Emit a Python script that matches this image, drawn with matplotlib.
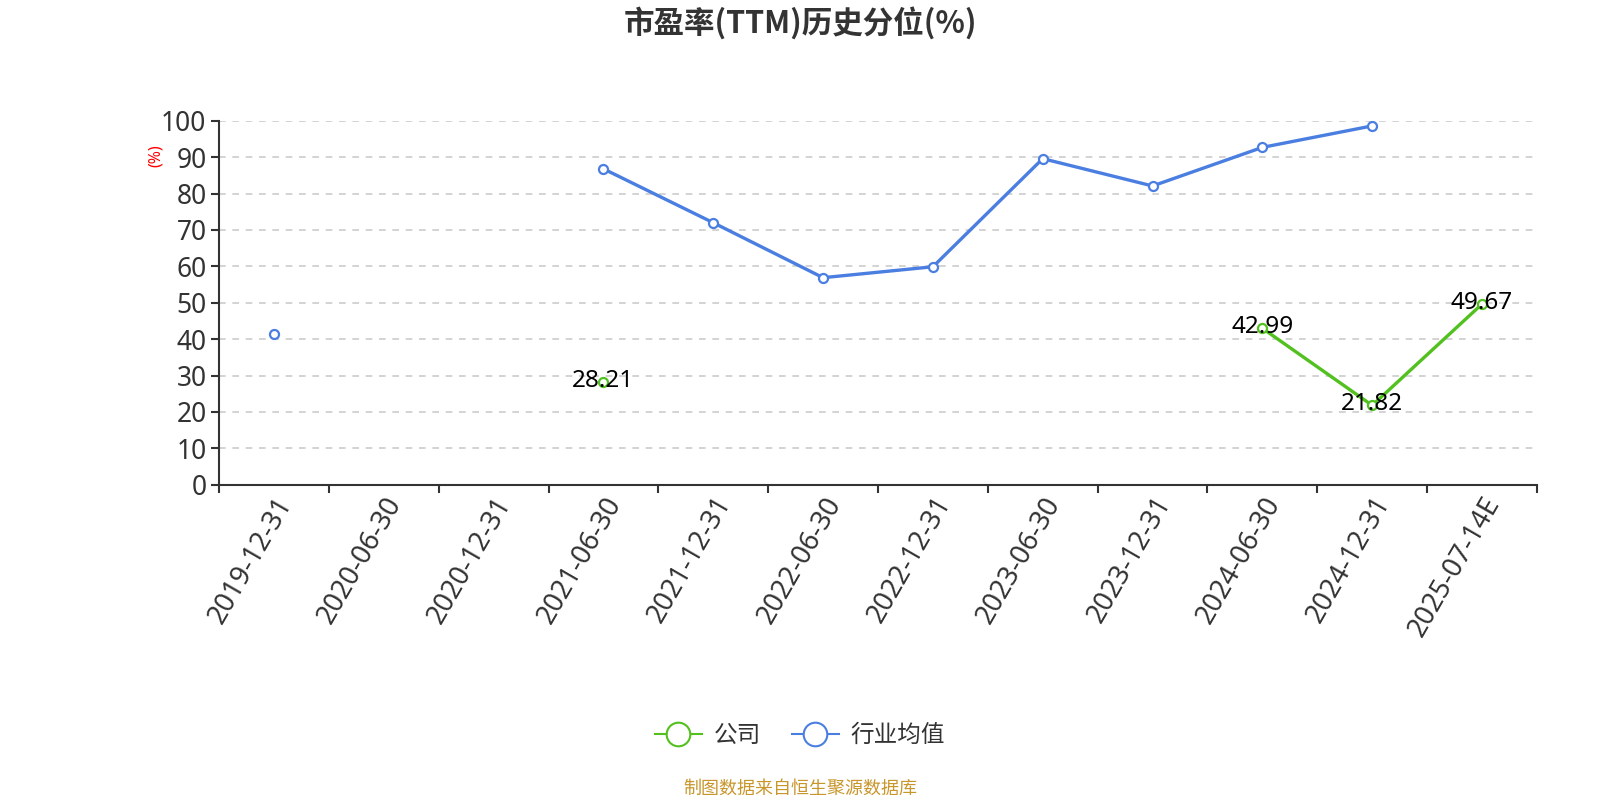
import numpy as np
import matplotlib
matplotlib.use("Agg")
import matplotlib.pyplot as plt
from matplotlib.lines import Line2D

plt.rcParams['font.family'] = ['Noto Sans', 'Noto Sans CJK SC', 'DejaVu Sans']

# data
dates = ["2019-12-31", "2020-06-30", "2020-12-31", "2021-06-30", "2021-12-31",
         "2022-06-30", "2022-12-31", "2023-06-30", "2023-12-31", "2024-06-30",
         "2024-12-31", "2025-07-14E"]
company = [np.nan, np.nan, np.nan, 28.21, np.nan, np.nan, np.nan, np.nan,
           np.nan, 42.99, 21.82, 49.67]
industry = [41.5, np.nan, np.nan, 86.8, 72.0, 56.9, 59.9, 89.6, 82.1, 92.7,
            98.6, np.nan]
yticks = list(range(0, 101, 10))

green = "#52c11f"
blue = "#4a7ee0"

fig = plt.figure(figsize=(16, 8), dpi=100)
ax = fig.add_axes([0.1369, 0.394, 0.8237, 0.455])

x = np.arange(len(dates))
ax.plot(x, industry, color=blue, lw=2.4, marker='o', ms=6.5, mfc='white',
        mec=blue, mew=1.6, zorder=3)
ax.plot(x, company, color=green, lw=2.4, marker='o', ms=6.5, mfc='white',
        mec=green, mew=1.6, zorder=4)

for xi, v in zip(x, company):
    if not np.isnan(v):
        ax.text(xi, v + 0.3, f"{v:.2f}", ha='center', va='center', fontsize=17.5,
                color='black', zorder=5)

ax.set_xlim(-0.5, len(dates) - 0.5)
ax.set_ylim(0, 100)
ax.set_yticks(yticks)
ax.set_yticklabels([str(t) for t in yticks], fontsize=19, color='#333333')
ax.yaxis.grid(True, ls=(0, (4, 4)), color='#cccccc', lw=1.2)
ax.set_axisbelow(True)

# tick marks on band boundaries, labels at band centres
ax.set_xticks(np.arange(len(dates) + 1) - 0.5)
ax.set_xticklabels([])
ax.tick_params(axis='x', which='major', length=6, width=1.5, color='#333333')
ax.set_xticks(x, minor=True)
ax.set_xticklabels(dates, minor=True, rotation=60, ha='right',
                   rotation_mode='anchor', fontsize=19.5, color='#333333')
ax.tick_params(axis='x', which='minor', length=0, pad=5)
ax.tick_params(axis='y', length=6, width=1.5, color='#333333', pad=3)

for s in ['top', 'right']:
    ax.spines[s].set_visible(False)
for s in ['left', 'bottom']:
    ax.spines[s].set_color('#333333')
    ax.spines[s].set_linewidth(1.5)

fig.text(0.0975, 0.806, "(%)", rotation=90, color='red', fontsize=11.5,
         ha='center', va='center')

fig.text(0.5, 0.971, "市盈率(TTM)历史分位(%)", ha='center', va='center',
         fontsize=22, fontweight='bold', color='#333333',
         family=['Noto Sans CJK SC', 'DejaVu Sans'])

handles = [
    Line2D([], [], color=green, lw=1.5, marker='o', ms=17, mfc='white',
           mec=green, mew=1.5),
    Line2D([], [], color=blue, lw=1.5, marker='o', ms=17, mfc='white',
           mec=blue, mew=1.5),
]
fig.legend(handles, ["公司", "行业均值"], loc='center', bbox_to_anchor=(0.5, 0.08),
           ncol=2, frameon=False, fontsize=17, handlelength=2.0,
           columnspacing=1.3, handletextpad=0.5, labelcolor='#333333')

fig.text(0.5, 0.014, "制图数据来自恒生聚源数据库", ha='center', va='center',
         fontsize=13, color='#c9962c')

fig.savefig("out.png", dpi=100)
